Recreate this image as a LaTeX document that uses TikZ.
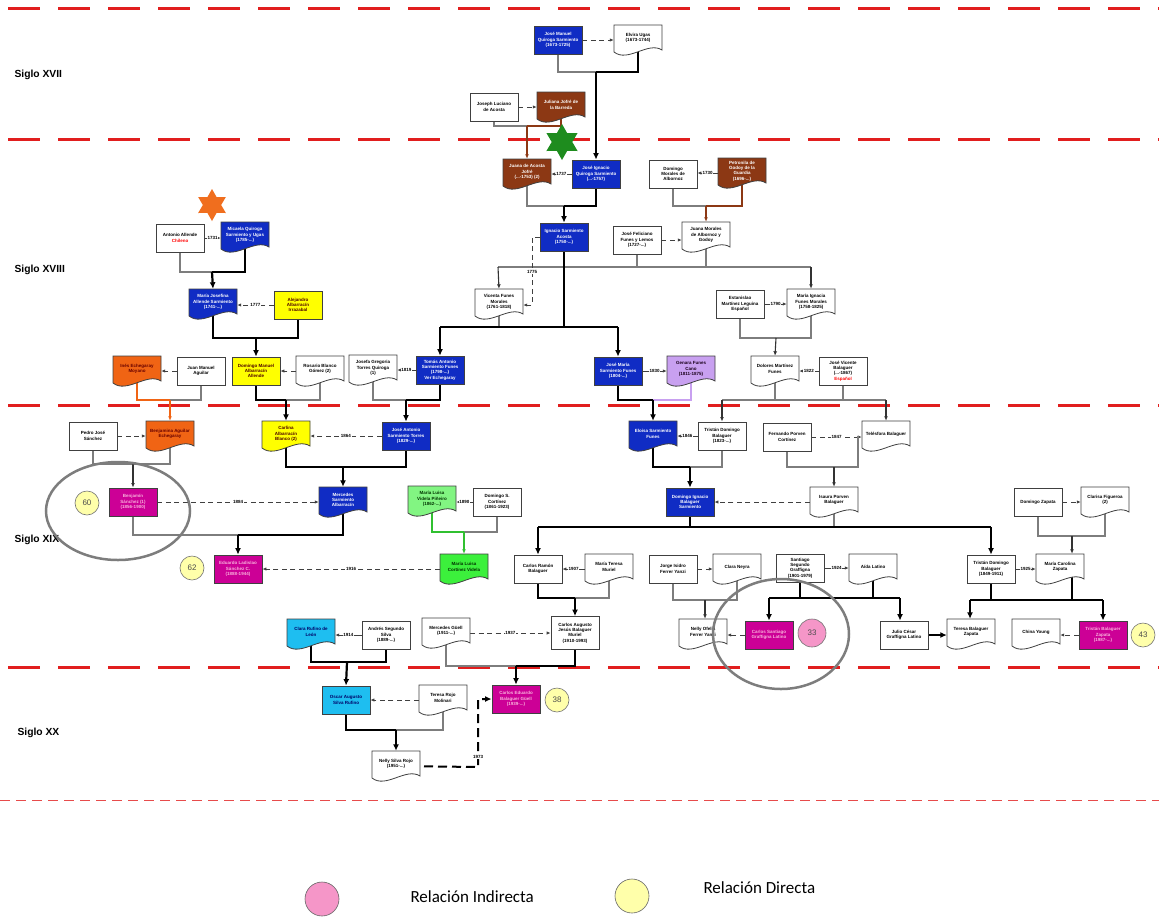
\documentclass[tikz,border=0pt]{standalone}
\usepackage{fontspec}
\setmainfont{Liberation Sans}
\newfontfamily\legfont{Carlito}
\usetikzlibrary{arrows.meta,shapes.geometric,backgrounds}
\definecolor{cblue}{RGB}{16,44,196}
\definecolor{cbrown}{RGB}{140,56,20}
\definecolor{cyell}{RGB}{255,255,0}
\definecolor{corange}{RGB}{240,100,20}
\definecolor{cmag}{RGB}{204,0,150}
\definecolor{clilac}{RGB}{200,160,240}
\definecolor{cgreen}{RGB}{60,240,60}
\definecolor{cgreenl}{RGB}{130,245,130}
\definecolor{ccyan}{RGB}{30,190,240}
\definecolor{cred}{RGB}{225,30,30}
\definecolor{cgrey}{RGB}{125,125,125}
\definecolor{gstarc}{RGB}{30,140,30}
\definecolor{ostarc}{RGB}{240,110,30}
\definecolor{cyc}{RGB}{255,255,170}
\definecolor{cpc}{RGB}{245,150,200}
\newcommand\docn[5]{%
  \path[#2,docbd] ({#3-24},{#4-15}) -- ({#3+24},{#4-15}) -- ({#3+24},{#4+10})
    .. controls ({#3+10},{#4+1}) and ({#3-10},{#4+23}) .. ({#3-24},{#4+12}) -- cycle;
  \node[dnode] (#1) at (#3,#4) {};
  \node[dtext,#2] (#1-t) at (#3,{#4-2}) {#5};}
\begin{document}
\begin{tikzpicture}[x=1pt,y=-1pt,
  nfont/.style={font=\fontsize{4.5}{5.3}\selectfont\bfseries},
  rbox/.style={draw=black!75,line width=0.8pt,minimum width=48pt,minimum height=28pt,inner sep=1pt,align=center,nfont},
  docbd/.style={draw=black!75,line width=0.8pt},
  dnode/.style={draw=none,fill=none,minimum width=48pt,minimum height=30pt,inner sep=0pt},
  dtext/.style={draw=none,fill=none,inner sep=0pt,align=center,nfont},
  pblue/.style={fill=cblue,text=white},
  pwhite/.style={fill=white,text=black},
  pbrown/.style={fill=cbrown,text=white},
  pyell/.style={fill=cyell,text=black!70!red},
  porange/.style={fill=corange,text=black!60!red},
  pmag/.style={fill=cmag,text=magenta!30!white},
  plilac/.style={fill=clilac,text=black!80!violet},
  pgreen/.style={fill=cgreen,text=black!80!green},
  pgreenl/.style={fill=cgreenl,text=black!80!green},
  pcyan/.style={fill=ccyan,text=black!60!blue},
  thinl/.style={draw=cgrey,line width=1.1pt},
  thickl/.style={draw=black,line width=2.2pt},
  brownl/.style={draw=cbrown,line width=1.2pt},
  orangel/.style={draw=corange,line width=1.2pt},
  lilacl/.style={draw=clilac,line width=1.2pt},
  greenl/.style={draw=cgreen!80!black,line width=1.2pt},
  arr/.style={-{Latex[length=4.5pt,width=3.8pt]}},
  tarr/.style={-{Latex[length=6.5pt,width=6pt]}},
  sp/.style={draw=black!75,line width=0.9pt,-{Latex[length=4pt,width=3.4pt]}},
  spd/.style={sp,dash pattern=on 5pt off 3.5pt},
  yr/.style={fill=white,inner sep=0.6pt,font=\fontsize{4.5}{5}\selectfont\bfseries},
  sec/.style={anchor=west,font=\fontsize{10.3}{12}\selectfont\bfseries},
  ycirc/.style={circle,draw=black!55,line width=0.6pt,fill=cyc,minimum size=24pt,inner sep=0pt,font=\fontsize{8}{9}\selectfont,text=black!70},
  pcirc/.style={ycirc,fill=cpc,minimum size=28pt},
  ellip/.style={draw=cgrey,line width=2.5pt},
  redd/.style={draw=cred,line width=3pt,dash pattern=on 32pt off 18pt,dash phase=41.7pt},
  reddthin/.style={draw=cred!80!white,line width=1pt,dash pattern=on 10pt off 6pt}
]
\useasboundingbox (0,0) rectangle (1159,919);

% ---------- nodes ----------
\node[rbox,pblue] (jmq) at (558,40) {José Manuel\\Quiroga Sarmiento\\(1673-1725)};
\docn{elv}{pwhite}{638}{40}{Elvira Ugas\\(1673-1744)}
\node[rbox,pwhite] (jla) at (494,107) {Joseph Luciano\\de Acosta};
\docn{jjb}{pbrown}{561}{107}{Juliana Jofré de\\la Barreda}
\docn{jaj}{pbrown}{527}{174}{Juana de Acosta\\Jofré\\(...-1753) (2)}
\node[rbox,pblue] (jiq) at (596,174) {José Ignacio\\Quiroga Sarmiento\\(...-1757)};
\node[rbox,pwhite] (dma) at (673,174) {Domingo\\Morales de\\Albornoz};
\docn{pgg}{pbrown}{742}{173}{Petronila de\\Godoy de la\\Guardia\\(1696-...)}
\node[rbox,pblue] (isa) at (564,237) {Ignacio Sarmiento\\Acosta\\(1750-...)};
\node[rbox,pwhite] (jff) at (637,240) {José Feliciano\\Funes y Lemos\\(1727-...)};
\docn{jma}{pwhite}{706}{237}{Juana Morales\\de Albornoz y\\Godoy}
\node[rbox,pwhite] (aal) at (180,238) {Antonio Allende\\\textcolor{red}{Chileno}};
\docn{mqs}{pblue}{245}{237}{Micaela Quiroga\\Sarmiento y Ugas\\(1785-...)}
\docn{mja}{pblue}{213}{304}{María Josefina\\Allende Sarmiento\\(1741-...)}
\node[rbox,pyell] (aai) at (298,305) {Alejandro\\Albarracín\\Irrazabal};
\docn{vfm}{pwhite}{499}{304}{Vicenta Funes\\Morales\\(1761-1818)}
\node[rbox,pwhite] (eml) at (740,304) {Estanislao\\Martínez Leguina\\Español};
\docn{mif}{pwhite}{811}{304}{María Ignacia\\Funes Morales\\(1758-1825)}
\docn{iem}{porange}{137}{371}{Inés Echegaray\\Moyano}
\node[rbox,pwhite] (jmag) at (201,371) {Juan Manuel\\Aguilar};
\node[rbox,pyell] (dmaa) at (256,371) {Domingo Manuel\\Albarracín\\Allende};
\docn{rbg}{pwhite}{320}{371}{Rosario Blanco\\Gómez (2)}
\docn{jgt}{pwhite}{373}{370}{Josefa Gregoria\\Torres Quiroga\\(1)}
\node[rbox,pblue] (tas) at (440,370) {Tomás Antonio\\Sarmiento Funes\\(1798-...)\\Ver Echegaray};
\node[rbox,pblue] (jms) at (618,371) {José María\\Sarmiento Funes\\(1804-...)};
\docn{gfc}{plilac}{691}{371}{Genara Funes\\Cano\\(1811-1875)}
\docn{dmf}{pwhite}{775}{371}{Dolores Martínez\\Funes}
\node[rbox,pwhite] (jvb) at (843,371) {José Vicente\\Balaguer\\(...-1867)\\\textcolor{red}{Español}};
\node[rbox,pwhite] (pjs) at (93,436) {Pedro José\\Sánchez};
\docn{bae}{porange}{170}{436}{Benjamina Aguilar\\Echegaray}
\docn{cab}{pyell}{286}{436}{Carlina\\Albarracín\\Blanco (2)}
\node[rbox,pblue] (jast) at (406,436) {José Antonio\\Sarmiento Torres\\(1829-...)};
\docn{esf}{pblue}{653}{436}{Eloisa Sarmiento\\Funes}
\node[rbox,pwhite] (tdb) at (722,436) {Tristán Domingo\\Balaguer\\(1823-...)};
\node[rbox,pwhite] (fpc) at (787,437) {Fernando Porven\\Cortínez};
\docn{tb}{pwhite}{886}{436}{Telésfora Balaguer}
\node[rbox,pmag] (bs) at (133,502) {Benjamín\\Sánchez (1)\\(1856-1900)};
\docn{msa}{pblue}{343}{502}{Mercedes\\Sarmiento\\Albarracín}
\docn{mlv}{pgreenl}{432}{501}{María Luisa\\Videla Piñeiro\\(1862-...)}
\node[rbox,pwhite] (dsc) at (497,502) {Domingo S.\\Cortínez\\(1861-1923)};
\node[rbox,pblue] (dib) at (690,502) {Domingo Ignacio\\Balaguer\\Sarmiento};
\docn{ipb}{pwhite}{834}{502}{Isaura Porven\\Balaguer}
\node[rbox,pwhite] (dz) at (1038,502) {Domingo Zapata};
\docn{cf}{pwhite}{1105}{502}{Clarisa Figueroa\\(2)}
\node[rbox,pmag] (els) at (238,569) {Eduardo Ladislao\\Sánchez C.\\(1888-1944)};
\docn{mlc}{pgreen}{464}{569}{María Luisa\\Cortínez Videla}
\node[rbox,pwhite] (crb) at (538,569) {Carlos Ramón\\Balaguer};
\docn{mtm}{pwhite}{609}{569}{María Teresa\\Muriel}
\node[rbox,pwhite] (jif) at (673,569) {Jorge Isidro\\Ferrer Yanzi};
\docn{cn}{pwhite}{737}{569}{Clara Neyra}
\node[rbox,pwhite] (ssg) at (800,568) {Santiago\\Segundo\\Graffigna\\(1901-1979)};
\docn{al}{pwhite}{873}{569}{Aída Latino}
\node[rbox,pwhite] (tdb2) at (991,569) {Tristán Domingo\\Balaguer\\(1849-1911)};
\docn{mcz}{pwhite}{1060}{569}{María Carolina\\Zapata}
\docn{crl}{pcyan}{311}{634}{Clara Rufino de\\León}
\node[rbox,pwhite] (asf) at (386,635) {Andrés Segundo\\Silva\\(1889-...)};
\docn{mg}{pwhite}{446}{633}{Mercedes Güell\\(1911-...)}
\node[rbox,pwhite,minimum height=33pt] (cajb) at (575,633) {Carlos Augusto\\Jesús Balaguer\\Muriel\\(1910-1993)};
\docn{nof}{pwhite}{703}{634}{Nelly Ofelia\\Ferrer Yanzi}
\node[rbox,pmag] (csg) at (769,635) {Carlos Santiago\\Graffigna Latino};
\node[rbox,pwhite] (jcg) at (904,635) {Julio César\\Graffigna Latino};
\docn{tbz}{pwhite}{971}{634}{Teresa Balaguer\\Zapata}
\docn{cy}{pwhite}{1036}{634}{China Young}
\node[rbox,pmag] (tbz2) at (1103,635) {Tristán Balaguer\\Zapata\\(1987-...)};
\node[rbox,pcyan] (oas) at (346,700) {Oscar Augusto\\Silva Rufino};
\docn{trm}{pwhite}{443}{700}{Teresa Rojo\\Molinari}
\node[rbox,pmag] (ceb) at (516,699) {Carlos Eduardo\\Balaguer Güell\\(1939-...)};
\docn{nsr}{pwhite}{396}{766}{Nelly Silva Rojo\\(1951-...)}

% stars
\node[star,star points=6,star point ratio=1.75,fill=gstarc,minimum size=36pt,inner sep=0pt] (gstar) at (562,142) {};
\node[star,star points=6,star point ratio=1.75,fill=ostarc,minimum size=32pt,inner sep=0pt] (ostar) at (212,205) {};

% circles
\node[ycirc] (c60) at (87,503) {60};
\node[ycirc] (c62) at (192,568) {62};
\node[ycirc] (c38) at (557,700) {38};
\node[ycirc] (c43) at (1143,635) {43};
\node[pcirc] (c33) at (812,633) {33};

% section labels
\node[sec] (s17) at (11,75) {Siglo XVII};
\node[sec] (s18) at (11,270) {Siglo XVIII};
\node[sec] (s19) at (11,540) {Siglo XIX};
\node[sec] (s20) at (14,733) {Siglo XX};

% legend
\node[circle,draw=black!60,line width=0.6pt,fill=cpc,minimum size=34pt,inner sep=0pt] (lpc) at (322,899) {};
\node[anchor=west,font=\legfont\fontsize{17}{19}\selectfont] (lpt) at (407,897) {Relación Indirecta};
\node[circle,draw=black!60,line width=0.6pt,fill=cyc,minimum size=34pt,inner sep=0pt] (lyc) at (632,896) {};
\node[anchor=west,font=\legfont\fontsize{17}{19}\selectfont] (lyt) at (700,888) {Relación Directa};

% ellipses
\draw[ellip] (118,511) ellipse [x radius=72pt, y radius=49pt];
\draw[ellip] (781,634) ellipse [x radius=68pt, y radius=55pt];

% ---------- connectors ----------
\begin{scope}[on background layer]
\fill[white] (0,0) rectangle (1159,919);
\draw[redd] (0,8) -- (1159,8);
\draw[redd] (0,139) -- (1159,139);
\draw[redd] (0,405) -- (1159,405);
\draw[redd] (0,667) -- (1159,667);
\draw[reddthin] (0,800) -- (1159,800);

\coordinate (j1) at (596,72);
\draw[thinl] (jmq.center) |- (j1);
\draw[thickl] (elv.center) |- (j1);
\draw[thickl,tarr] (j1) -- (jiq.north);
\draw[spd] (jmq.east) -- (jmq.east -| elv.west);

\coordinate (j2) at (527,126);
\draw[thinl] (jla.center) |- (j2);
\draw[brownl] (jjb.center) |- (j2);
\draw[brownl,arr] (j2) -- (jaj.north);
\draw[spd] (jla.east) -- (jla.east -| jjb.west);

\draw[sp] (jiq.west) -- node[yr]{1737} (jiq.west -| jaj.east);
\coordinate (j3) at (564,206);
\draw[thinl] (jaj.center) |- (j3);
\draw[thickl] (jiq.center) |- (j3);
\draw[thickl,tarr] (j3) -- (isa.north);

\draw[sp] (pgg.west) -- node[yr]{1730} (pgg.west -| dma.east);
\coordinate (j4) at (706,206);
\draw[thinl] (dma.center) |- (j4);
\draw[brownl] (pgg.center) |- (j4);
\draw[brownl,arr] (j4) -- (jma.north);

\draw[spd] (jff.east) -- (jff.east -| jma.west);
\coordinate (j5a) at (498,267);
\coordinate (j5b) at (811,267);
\draw[thinl] (j5a) -- (j5b);
\draw[thinl] (jff.center) -- (jff.center |- j5a);
\draw[thinl] (jma.center) -- (jma.center |- j5a);
\draw[thinl,arr,draw=black!80] (j5a) -- (vfm.north);
\draw[thinl,arr,draw=black!80] (j5b) -- (mif.north);
\coordinate (j6) at (532,305);
\draw[spd] (isa.west) -| (j6) -- (j6 -| vfm.east);
\node[yr] (l1775) at (532,272) {1775};

\coordinate (j7a) at (440,327);
\coordinate (j7b) at (618,327);
\draw[thinl] (vfm.center) -- (vfm.center |- j7a);
\draw[thickl] (isa.center) -- (isa.center |- j7a);
\draw[thickl] (j7a) -- (j7b);
\draw[thickl,tarr] (j7a) -- (tas.north);
\draw[thickl,tarr] (j7b) -- (jms.north);

\draw[sp] (eml.east) -- node[yr]{1790} (eml.east -| mif.west);
\coordinate (j8) at (776,338);
\draw[thinl] (eml.center) |- (j8);
\draw[thinl] (mif.center) |- (j8);
\draw[thinl,arr,draw=black!80] (j8) -- (dmf.north);

\draw[sp] (aal.east) -- node[yr]{1731} (aal.east -| mqs.west);
\coordinate (j9) at (212,272);
\draw[thinl] (aal.center) |- (j9);
\draw[thickl] (mqs.center) |- (j9);
\draw[thickl,tarr] (j9) -- (mja.north);

\draw[spd] (aai.west) -- node[yr]{1777} (aai.west -| mja.east);
\coordinate (j10) at (256,338);
\draw[thickl] (mja.center) |- (j10);
\draw[thickl] (aai.center) |- (j10);
\draw[thickl,tarr] (j10) -- (dmaa.north);

\draw[spd] (jmag.west) -- (jmag.west -| iem.east);
\draw[spd] (rbg.west) -- (rbg.west -| dmaa.east);
\draw[sp] (tas.west) -- node[yr]{1819} (tas.west -| jgt.east);
\draw[sp] (jms.east) -- node[yr]{1830} (jms.east -| gfc.west);
\draw[sp] (jvb.west) -- node[yr]{1822} (jvb.west -| dmf.east);

\coordinate (j11) at (170,400);
\draw[orangel] (iem.center) |- (j11);
\draw[thinl] (jmag.center) |- (j11);
\draw[orangel,arr] (j11) -- (bae.north);
\coordinate (j12) at (286,400);
\draw[thickl] (dmaa.center) |- (j12);
\draw[thinl] (rbg.center) |- (j12);
\draw[thickl,tarr] (j12) -- (cab.north);
\coordinate (j13) at (406,400);
\draw[thinl] (jgt.center) |- (j13);
\draw[thickl] (tas.center) |- (j13);
\draw[thickl,tarr] (j13) -- (jast.north);
\coordinate (j14) at (653,400);
\draw[lilacl] (gfc.center) |- (j14);
\draw[thickl] (jms.center) |- (j14);
\draw[thickl,tarr] (j14) -- (esf.north);
\coordinate (j15a) at (722,400);
\coordinate (j15b) at (886,400);
\draw[thinl] (j15a) -- (j15b);
\draw[thinl] (dmf.center) -- (dmf.center |- j15a);
\draw[thinl] (jvb.center) -- (jvb.center |- j15a);
\draw[thinl,arr,draw=black!80] (j15a) -- (tdb.north);
\draw[thinl,arr,draw=black!80] (j15b) -- (tb.north);

\draw[spd] (pjs.east) -- (pjs.east -| bae.west);
\draw[spd] (jast.west) -- node[yr]{1864} (jast.west -| cab.east);
\draw[sp] (tdb.west) -- node[yr]{1846} (tdb.west -| esf.east);
\draw[spd] (fpc.east) -- node[yr]{1847} (fpc.east -| tb.west);

\coordinate (j16) at (133,464);
\draw[thinl] (pjs.center) |- (j16);
\draw[thinl] (bae.center) |- (j16);
\draw[thinl,arr,draw=black!80] (j16) -- (bs.north);
\coordinate (j17) at (343,467);
\draw[thickl] (cab.center) |- (j17);
\draw[thickl] (jast.center) |- (j17);
\draw[thickl,tarr] (j17) -- (msa.north);
\coordinate (j18) at (690,467);
\draw[thickl] (esf.center) |- (j18);
\draw[thinl] (tdb.center) |- (j18);
\draw[thickl,tarr] (j18) -- (dib.north);
\coordinate (j19) at (834,467);
\draw[thinl] (fpc.center) |- (j19);
\draw[thinl] ([xshift=-28pt]tb.center) |- (j19);
\draw[thinl,arr,draw=black!80] (j19) -- (ipb.north);

\draw[spd] (bs.east) -- node[yr]{1884} (bs.east -| msa.west);
\draw[sp] (dsc.west) -- node[yr]{1890} (dsc.west -| mlv.east);
\draw[spd] (ipb.west) -- (ipb.west -| dib.east);
\draw[spd] (dz.east) -- (dz.east -| cf.west);

\coordinate (j20) at (238,535);
\draw[thinl] (bs.center) |- (j20);
\draw[thickl] (msa.center) |- (j20);
\draw[thickl,tarr] (j20) -- (els.north);
\coordinate (j21) at (464,532);
\draw[greenl] (mlv.center) |- (j21);
\draw[thinl] (dsc.center) |- (j21);
\draw[greenl,arr] (j21) -- (mlc.north);
\coordinate (j22a) at (538,527);
\coordinate (j22b) at (991,527);
\draw[thinl] (ipb.center) -- (ipb.center |- j22a);
\draw[thickl] (dib.center) -- (dib.center |- j22a);
\draw[thickl] (j22a) -- (j22b);
\draw[thickl,tarr] (j22a) -- (crb.north);
\draw[thickl,tarr] (j22b) -- (tdb2.north);
\coordinate (j23) at (1072,536);
\draw[thinl] (dz.center) |- (j23);
\draw[thinl] (cf.center) |- (j23);
\draw[thinl,arr,draw=black!80] (j23) -- (j23 |- mcz.north);

\draw[spd] (mlc.west) -- node[yr]{1916} (mlc.west -| els.east);
\draw[sp] (mtm.west) -- node[yr]{1907} (mtm.west -| crb.east);
\draw[spd] (jif.east) -- (jif.east -| cn.west);
\draw[sp] (ssg.east) -- node[yr]{1924} (ssg.east -| al.west);
\draw[sp] (tdb2.east) -- node[yr]{1925} (tdb2.east -| mcz.west);

\coordinate (j24) at (575,598);
\draw[thickl] (crb.center) |- (j24);
\draw[thinl] (mtm.center) |- (j24);
\draw[thickl,tarr] (j24) -- (cajb.north);
\coordinate (j25) at (705,600);
\draw[thinl] (jif.center) |- (j25);
\draw[thinl] (cn.center) |- (j25);
\draw[thinl,arr,draw=black!80] (j25) -- (j25 |- nof.north);
\coordinate (j26a) at (769,598);
\coordinate (j26b) at (900,598);
\draw[thickl] (ssg.center) -- (ssg.center |- j26a);
\draw[thickl] (al.center) -- (al.center |- j26a);
\draw[thickl] (j26a) -- (j26b);
\draw[thickl,tarr] (j26a) -- (csg.north);
\draw[thickl,tarr] (j26b) -- (j26b |- jcg.north);
\coordinate (j27a) at (970,600);
\coordinate (j27b) at (1103,600);
\draw[thickl] (tdb2.center) -- (tdb2.center |- j27a);
\draw[thickl] ([xshift=12pt]mcz.center) -- ([xshift=12pt]mcz.center |- j27a);
\draw[thickl] (j27a) -- (j27b);
\draw[thickl,tarr] (j27a) -- (j27a |- tbz.north);
\draw[thickl,tarr] (j27b) -- (tbz2.north);

\draw[sp] (asf.west) -- node[yr]{1914} (asf.west -| crl.east);
\draw[spd] (mg.east) -- node[yr]{1937} (mg.east -| cajb.west);
\draw[spd] (csg.west) -- (csg.west -| nof.east);
\draw[thickl,tarr] (jcg.east) -- (jcg.east -| tbz.west);
\draw[spd] (tbz2.west) -- (tbz2.west -| cy.east);

\coordinate (j28) at (347,662);
\draw[thickl] (crl.center) |- (j28);
\draw[thickl] (asf.center) |- (j28);
\draw[thickl,tarr] (j28) -- (oas.north);
\coordinate (j29) at (516,666);
\draw[thinl] (mg.center) |- (j29);
\draw[thickl] (cajb.center) |- (j29);
\draw[thickl,tarr] (j29) -- (ceb.north);

\draw[spd] (trm.west) -- (trm.west -| oas.east);
\coordinate (j30) at (396,730);
\draw[thickl] (oas.center) |- (j30);
\draw[thinl] (trm.center) |- (j30);
\draw[thickl,tarr] (j30) -- (nsr.north);
\coordinate (j31) at (478,767);
\draw[draw=black,line width=2pt,dash pattern=on 9pt off 5pt,tarr] (nsr.center) -- (j31) |- (ceb.west);
\node[yr] (l1973) at (478,757) {1973};
\end{scope}
\end{tikzpicture}
\end{document}
